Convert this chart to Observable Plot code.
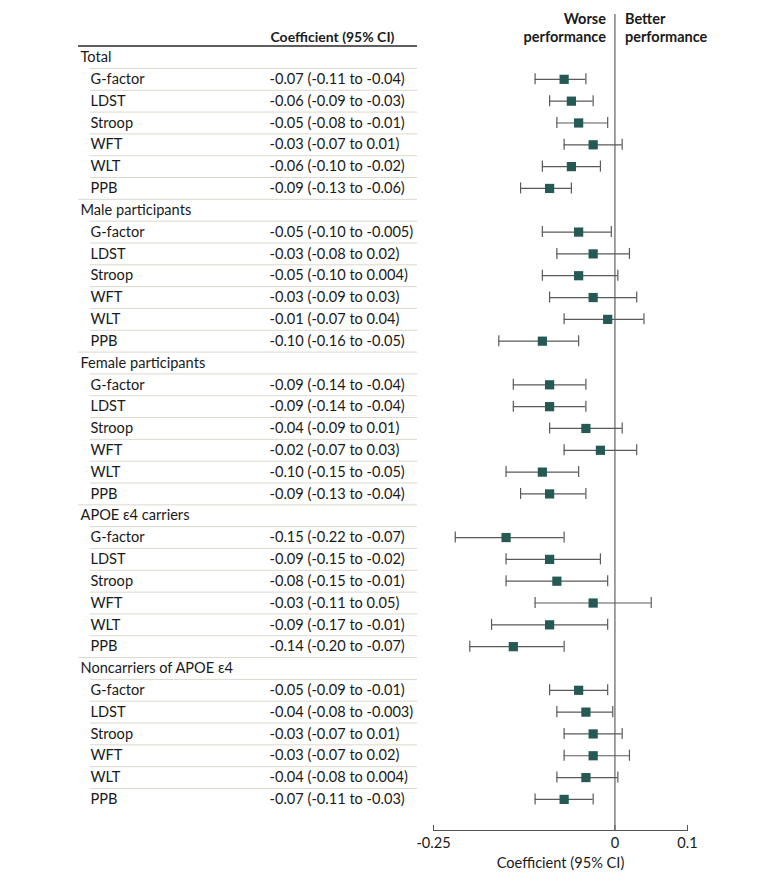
<!DOCTYPE html>
<html><head><meta charset="utf-8">
<script src="https://cdn.jsdelivr.net/npm/d3@7"></script>
<script src="https://cdn.jsdelivr.net/npm/@observablehq/plot@0.6"></script>
<style>
body{margin:0;background:#fff;}
#chart svg{font-family:Lato,"Open Sans",sans-serif;}
</style>
</head><body><div id="chart"></div>
<script>
// ---- data ----
const groups = ["Total", "Male participants", "Female participants", "APOE ε4 carriers", "Noncarriers of APOE ε4"];
const measures = ["G-factor", "LDST", "Stroop", "WFT", "WLT", "PPB"];
const estimates = [
  ["-0.07", "-0.06", "-0.05", "-0.03", "-0.06", "-0.09"],
  ["-0.05", "-0.03", "-0.05", "-0.03", "-0.01", "-0.10"],
  ["-0.09", "-0.09", "-0.04", "-0.02", "-0.10", "-0.09"],
  ["-0.15", "-0.09", "-0.08", "-0.03", "-0.09", "-0.14"],
  ["-0.05", "-0.04", "-0.03", "-0.03", "-0.04", "-0.07"]
];
const lowers = [
  ["-0.11", "-0.09", "-0.08", "-0.07", "-0.10", "-0.13"],
  ["-0.10", "-0.08", "-0.10", "-0.09", "-0.07", "-0.16"],
  ["-0.14", "-0.14", "-0.09", "-0.07", "-0.15", "-0.13"],
  ["-0.22", "-0.15", "-0.15", "-0.11", "-0.17", "-0.20"],
  ["-0.09", "-0.08", "-0.07", "-0.07", "-0.08", "-0.11"]
];
const uppers = [
  ["-0.04", "-0.03", "-0.01", "0.01", "-0.02", "-0.06"],
  ["-0.005", "0.02", "0.004", "0.03", "0.04", "-0.05"],
  ["-0.04", "-0.04", "0.01", "0.03", "-0.05", "-0.04"],
  ["-0.07", "-0.02", "-0.01", "0.05", "-0.01", "-0.07"],
  ["-0.01", "-0.003", "0.01", "0.02", "0.004", "-0.03"]
];
const axisTicks = [-0.25, 0, 0.1];
const xDomain = [-0.25, 0.1];
const columnTitle = "Coefficient (95% CI)";
const axisTitle = "Coefficient (95% CI)";
const worseLabel = "Worse\nperformance";
const betterLabel = "Better\nperformance";

// ---- table rows ----
const rows = [];
let id = 0;
rows.push({id: id++, kind: "header", label: columnTitle});
groups.forEach((g, gi) => {
  rows.push({id: id++, kind: "group", label: g});
  measures.forEach((m, mi) => {
    const e = estimates[gi][mi], l = lowers[gi][mi], u = uppers[gi][mi];
    rows.push({id: id++, kind: "item", label: m, est: +e, lo: +l, hi: +u, text: `${e} (${l} to ${u})`});
  });
});
const items = rows.filter(d => d.kind === "item");
const seps = rows.slice(1, -1).map((d, i) => ({id: d.id, full: rows[i + 2].kind === "group"}));

// ---- layout ----
const W = 780, H = 881, mL = 433, mR = 93, mT = 14, mB = 51;
const tableLeft = 78, indentLeft = 90, valueLeft = 269, tableRight = 417;
const frameH = H - mT - mB;
const band = 21.82;
const firstCenter = 35.2;

const chart = Plot.plot({
  width: W, height: H,
  marginLeft: mL, marginRight: mR, marginTop: mT, marginBottom: mB,
  x: {domain: xDomain},
  y: {type: "band", domain: rows.map(d => d.id), range: [firstCenter - band / 2, firstCenter - band / 2 + band * rows.length], padding: 0, round: false, axis: null},
  style: {fontFamily: "Lato, 'Open Sans', sans-serif", fontSize: "14.6px", color: "#1a1a1a", background: "#fff"},
  marks: [
    // table separators
    Plot.ruleY(seps.filter(d => !d.full), {y: "id", dy: band / 2, stroke: "#dcd8cc", strokeWidth: 1,
      insetLeft: indentLeft - mL, insetRight: (W - mR) - tableRight}),
    Plot.ruleY(seps.filter(d => d.full), {y: "id", dy: band / 2, stroke: "#dcd8cc", strokeWidth: 1,
      insetLeft: tableLeft - mL, insetRight: (W - mR) - tableRight}),
    Plot.ruleY(rows.filter(d => d.kind === "header"), {y: "id", dy: band / 2 - 0.5, stroke: "#2a2a2a", strokeWidth: 1.5,
      insetLeft: tableLeft - mL, insetRight: (W - mR) - tableRight}),
    // table text
    Plot.text(rows.filter(d => d.kind === "header"), {y: "id", text: "label", frameAnchor: "left", dx: 270 - mL, dy: 2,
      textAnchor: "start", fontWeight: "bold", fontSize: 14, fill: "#1a1a1a"}),
    Plot.text(rows.filter(d => d.kind === "group"), {y: "id", text: "label", frameAnchor: "left", dx: tableLeft + 2 - mL,
      textAnchor: "start", fontSize: 14.6, fill: "#1a1a1a"}),
    Plot.text(items, {y: "id", text: "label", frameAnchor: "left", dx: indentLeft - mL,
      textAnchor: "start", fontSize: 14.6, fill: "#1a1a1a"}),
    Plot.text(items, {y: "id", text: "text", frameAnchor: "left", dx: valueLeft - mL,
      textAnchor: "start", fontSize: 14.6, fill: "#1a1a1a"}),
    // direction labels
    Plot.text([{x: 0, t: worseLabel}], {x: "x", text: "t", frameAnchor: "top", dx: -9, dy: -3, lineAnchor: "top",
      textAnchor: "end", fontWeight: "bold", fontSize: 14.5, lineHeight: 1.25, fill: "#1a1a1a"}),
    Plot.text([{x: 0, t: betterLabel}], {x: "x", text: "t", frameAnchor: "top", dx: 10, dy: -3, lineAnchor: "top",
      textAnchor: "start", fontWeight: "bold", fontSize: 14.5, lineHeight: 1.25, fill: "#1a1a1a"}),
    // zero line
    Plot.ruleX([0], {stroke: "#6e6e6e", strokeWidth: 1.3}),
    // axis
    Plot.frame({anchor: "bottom", stroke: "#555", strokeWidth: 1}),
    Plot.ruleX(axisTicks, {stroke: "#555", strokeWidth: 1, insetTop: frameH - 5}),
    Plot.axisX(axisTicks, {tickSize: 0, tickPadding: 7, tickFormat: d => String(d), label: axisTitle,
      labelAnchor: "center", labelOffset: 37, labelArrow: "none", fontSize: 14.6, fill: "#1a1a1a"}),
    // CIs
    Plot.ruleY(items, {y: "id", x1: "lo", x2: "hi", stroke: "#5a5a5a", strokeWidth: 1.2}),
    Plot.tickX(items, {y: "id", x: "lo", stroke: "#5a5a5a", strokeWidth: 1.2, insetTop: 5.4, insetBottom: 5.4}),
    Plot.tickX(items, {y: "id", x: "hi", stroke: "#5a5a5a", strokeWidth: 1.2, insetTop: 5.4, insetBottom: 5.4}),
    Plot.dot(items, {y: "id", x: "est", symbol: "square", r: 5.2, fill: "#245a53", stroke: "none"})
  ]
});
document.getElementById("chart").appendChild(chart);
</script>
</body></html>
